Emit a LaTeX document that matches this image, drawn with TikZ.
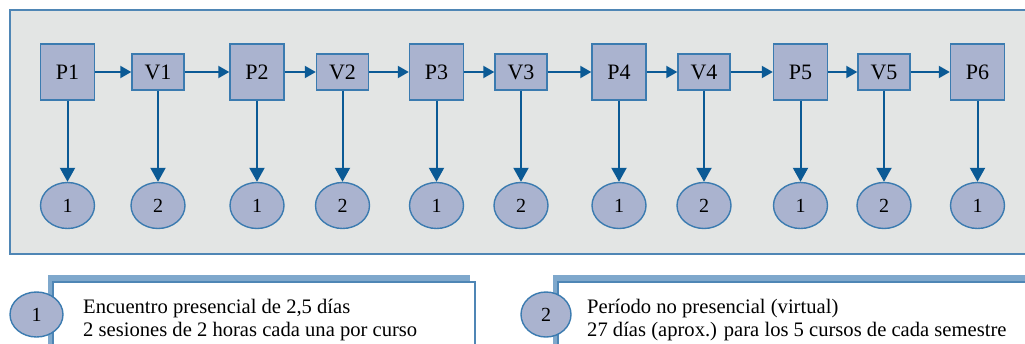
\documentclass[tikz,border=0pt]{standalone}
\usepackage{fontspec}
\setmainfont{Liberation Serif}
\usetikzlibrary{shapes.geometric,arrows.meta}
\definecolor{bgray}{HTML}{E3E5E4}
\definecolor{frame}{HTML}{4F86B5}
\definecolor{boxfill}{HTML}{AAB3CF}
\definecolor{boxdraw}{HTML}{3B7BB0}
\definecolor{arrowc}{HTML}{0B5A95}
\definecolor{shadowc}{HTML}{7FA8CC}
\tikzset{
  pbox/.style={draw=boxdraw,fill=boxfill,line width=1.4pt,minimum width=54pt,minimum height=56pt,inner sep=0pt,font=\fontsize{22}{24}\selectfont},
  vbox/.style={draw=boxdraw,fill=boxfill,line width=1.4pt,minimum width=52pt,minimum height=36pt,inner sep=0pt,font=\fontsize{22}{24}\selectfont},
  oval/.style={ellipse,draw=boxdraw,fill=boxfill,line width=1.4pt,minimum width=54pt,minimum height=46pt,inner sep=0pt,font=\fontsize{20}{22}\selectfont},
  harrow/.style={draw=arrowc,line width=2pt,-{Triangle[length=11pt,width=12pt]}},
  varrow/.style={draw=arrowc,line width=2pt,-{Triangle[length=14pt,width=15pt]}},
  legtext/.style={anchor=base west,inner sep=0pt,font=\fontsize{20.6}{23}\selectfont},
}
\begin{document}
\begin{tikzpicture}[x=1pt,y=-1pt]
\useasboundingbox (0,0) rectangle (1025,343);
\clip (0,0) rectangle (1025,343);
% main panel
\draw[fill=bgray,draw=frame,line width=1.6pt] (10,10) rectangle (1040,254);
% top row
\node[pbox] (P1) at (67.5,72) {P1};
\node[vbox] (V1) at (158,72) {V1};
\node[pbox] (P2) at (257,72) {P2};
\node[vbox] (V2) at (342.5,72) {V2};
\node[pbox] (P3) at (436.5,72) {P3};
\node[vbox] (V3) at (521,72) {V3};
\node[pbox] (P4) at (619,72) {P4};
\node[vbox] (V4) at (704,72) {V4};
\node[pbox] (P5) at (800.5,72) {P5};
\node[vbox] (V5) at (884,72) {V5};
\node[pbox] (P6) at (977.5,72) {P6};
% bottom row
\node[oval] (E1) at (67.5,205.5) {1};
\node[oval] (E2) at (158,205.5) {2};
\node[oval] (E3) at (257,205.5) {1};
\node[oval] (E4) at (342.5,205.5) {2};
\node[oval] (E5) at (436.5,205.5) {1};
\node[oval] (E6) at (521,205.5) {2};
\node[oval] (E7) at (619,205.5) {1};
\node[oval] (E8) at (704,205.5) {2};
\node[oval] (E9) at (800.5,205.5) {1};
\node[oval] (E10) at (884,205.5) {2};
\node[oval] (E11) at (977.5,205.5) {1};
% horizontal arrows
\foreach \a/\b in {P1/V1,V1/P2,P2/V2,V2/P3,P3/V3,V3/P4,P4/V4,V4/P5,P5/V5,V5/P6}
  \draw[harrow] (\a.east) -- (\b.west);
% vertical arrows
\foreach \a/\b in {P1/E1,V1/E2,P2/E3,V2/E4,P3/E5,V3/E6,P4/E7,V4/E8,P5/E9,V5/E10,P6/E11}
  \draw[varrow] (\a.south) -- (\b.north);
% legend 1
\fill[shadowc] (48,275) rectangle (470,360);
\draw[fill=white,draw=frame,line width=1.2pt] (53,282) rectangle (475,360);
\node[oval,minimum width=53pt,minimum height=45pt] (L1) at (36.5,314.5) {1};
\node[legtext] (T1a) at (83,313) {Encuentro presencial de 2,5 días};
\node[legtext] (T1b) at (83,336) {2 sesiones de 2 horas cada una por curso};
% legend 2
\fill[shadowc] (553,275) rectangle (1040,360);
\draw[fill=white,draw=frame,line width=1.2pt] (558,282) rectangle (1045,360);
\node[oval,minimum width=50pt,minimum height=45pt] (L2) at (546,314.5) {2};
\node[legtext] (T2a) at (587,313) {Período no presencial (virtual)};
\node[legtext] (T2b) at (587,336) {27 días (aprox.) para los 5 cursos de cada semestre};
\end{tikzpicture}
\end{document}
